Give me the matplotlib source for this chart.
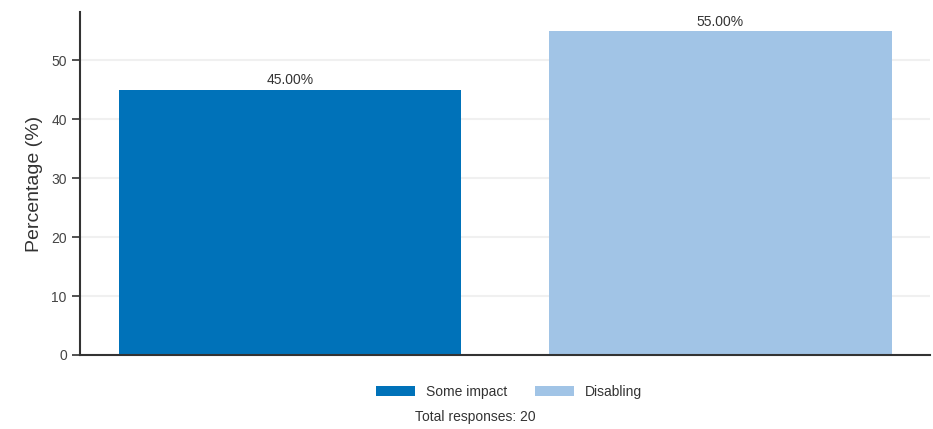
import matplotlib
matplotlib.use("Agg")
import matplotlib.pyplot as plt
from matplotlib.patches import Patch

categories = ["Some impact", "Disabling"]
percentages = [45.0, 55.0]
colors = ["#0072B9", "#A1C4E6"]
total_responses = 20

plt.rcParams['font.family'] = ['Liberation Sans', 'DejaVu Sans']

fig = plt.figure(figsize=(9.33, 4.29), dpi=100)
ax = fig.add_axes([0.0857, 0.1725, 0.9113, 0.7995])

x = list(range(len(categories)))
bars = ax.bar(x, percentages, width=0.795, color=colors, zorder=2)
for b, v in zip(bars, percentages):
    ax.text(b.get_x() + b.get_width() / 2, v + 0.4, f"{v:.2f}%",
            ha="center", va="bottom", fontsize=10, color="#333333")

ax.set_ylim(0, 58.2)
ax.set_xticks([])
ax.set_yticks([0, 10, 20, 30, 40, 50])
ax.tick_params(axis="y", length=6, width=1.2, color="#333333", labelsize=10, labelcolor="#444444")
ax.yaxis.grid(True, color="#f0f0f0", linewidth=1.5, zorder=0)
ax.set_axisbelow(True)
for s in ["top", "right"]:
    ax.spines[s].set_visible(False)
for s in ["left", "bottom"]:
    ax.spines[s].set_color("#333333")
    ax.spines[s].set_linewidth(1.5)
ax.set_ylabel("Percentage (%)", fontsize=14, color="#333333", labelpad=6)

handles = [Patch(facecolor=c, label=l) for c, l in zip(colors, categories)]
fig.legend(handles=handles, loc="center", bbox_to_anchor=(0.546, 0.086), ncol=2,
           frameon=False, fontsize=10, handlelength=2.8, handleheight=0.7,
           columnspacing=2.0, labelcolor="#333333")
fig.text(0.509, 0.028, f"Total responses: {total_responses}", ha="center", va="center",
         fontsize=10, color="#333333")

fig.savefig("out.png", dpi=100)
